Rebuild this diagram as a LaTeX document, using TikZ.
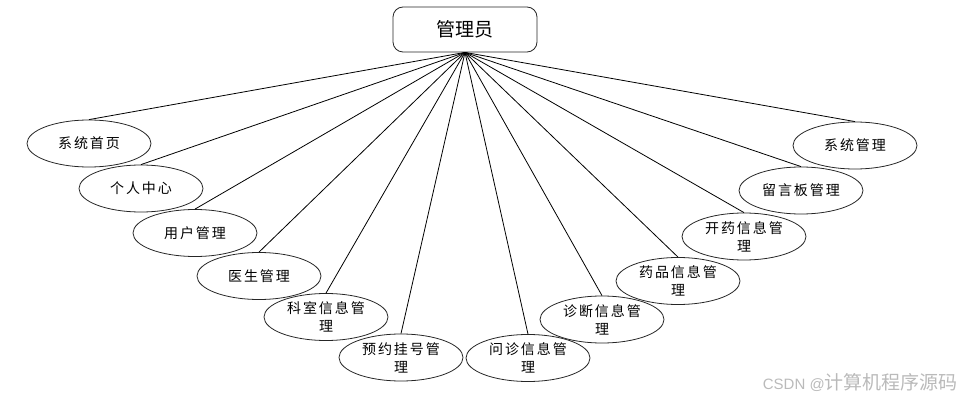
\documentclass[tikz,border=0pt]{standalone}
\usepackage{fontspec}
\setmainfont{Noto Sans CJK SC}
\newfontfamily\cjksp[LetterSpace=14]{Noto Sans CJK SC}
\newfontfamily\cjkplain{Noto Sans CJK SC}
\newfontfamily\wmlatin{Liberation Sans}
\usetikzlibrary{shapes.geometric}
\tikzset{
  ell/.style={ellipse, draw=black!85, line width=0.8pt, minimum width=124pt, minimum height=47pt, inner sep=0pt},
  etxt/.style={align=center, inner sep=0pt, font=\cjksp\fontsize{14}{18}\selectfont},
  conn/.style={draw=black, line width=0.8pt},
  adminbox/.style={draw=black!85, line width=0.8pt, rounded corners=10pt, minimum width=144pt, minimum height=45pt, font=\cjkplain\fontsize{19}{22}\selectfont}
}
\begin{document}
\begin{tikzpicture}[x=1pt,y=-1pt]
\useasboundingbox (0,0) rectangle (962,401);
\node[adminbox] (admin) at (465,29.5) {管理员};
\coordinate (hub) at (admin.south);

\node[ell] (n1) at (89,143.5) {};
\node[ell] (n2) at (141,188.5) {};
\node[ell] (n3) at (195,233) {};
\node[ell] (n4) at (259,276) {};
\node[ell] (n5) at (326,317) {};
\node[ell] (n6) at (401,357.5) {};
\node[ell] (n7) at (528,358) {};
\node[ell] (n8) at (602,319.5) {};
\node[ell] (n9) at (678,281) {};
\node[ell] (n10) at (744,236.5) {};
\node[ell] (n11) at (801,190.5) {};
\node[ell] (n12) at (855,145.5) {};

\node[etxt] (t1) at (n1) {系统首页};
\node[etxt] (t2) at (n2) {个人中心};
\node[etxt] (t3) at (n3) {用户管理};
\node[etxt] (t4) at (n4) {医生管理};
\node[etxt] (t5) at (n5) {科室信息管\\理};
\node[etxt] (t6) at (n6) {预约挂号管\\理};
\node[etxt] (t7) at (n7) {问诊信息管\\理};
\node[etxt] (t8) at (n8) {诊断信息管\\理};
\node[etxt] (t9) at (n9) {药品信息管\\理};
\node[etxt] (t10) at (n10) {开药信息管\\理};
\node[etxt] (t11) at (n11) {留言板管理};
\node[etxt] (t12) at (n12) {系统管理};

\foreach \n in {n1,n2,n3,n4,n5,n6,n7,n8,n9,n10,n11,n12}
  \draw[conn] (hub) -- (\n.north);

\node[anchor=base east, inner sep=0pt, text=black!27] (wm) at (958,389)
  {{\wmlatin\fontsize{15}{16}\selectfont CSDN @}{\cjkplain\fontsize{19}{20}\selectfont 计算机程序源码}};
\end{tikzpicture}
\end{document}
